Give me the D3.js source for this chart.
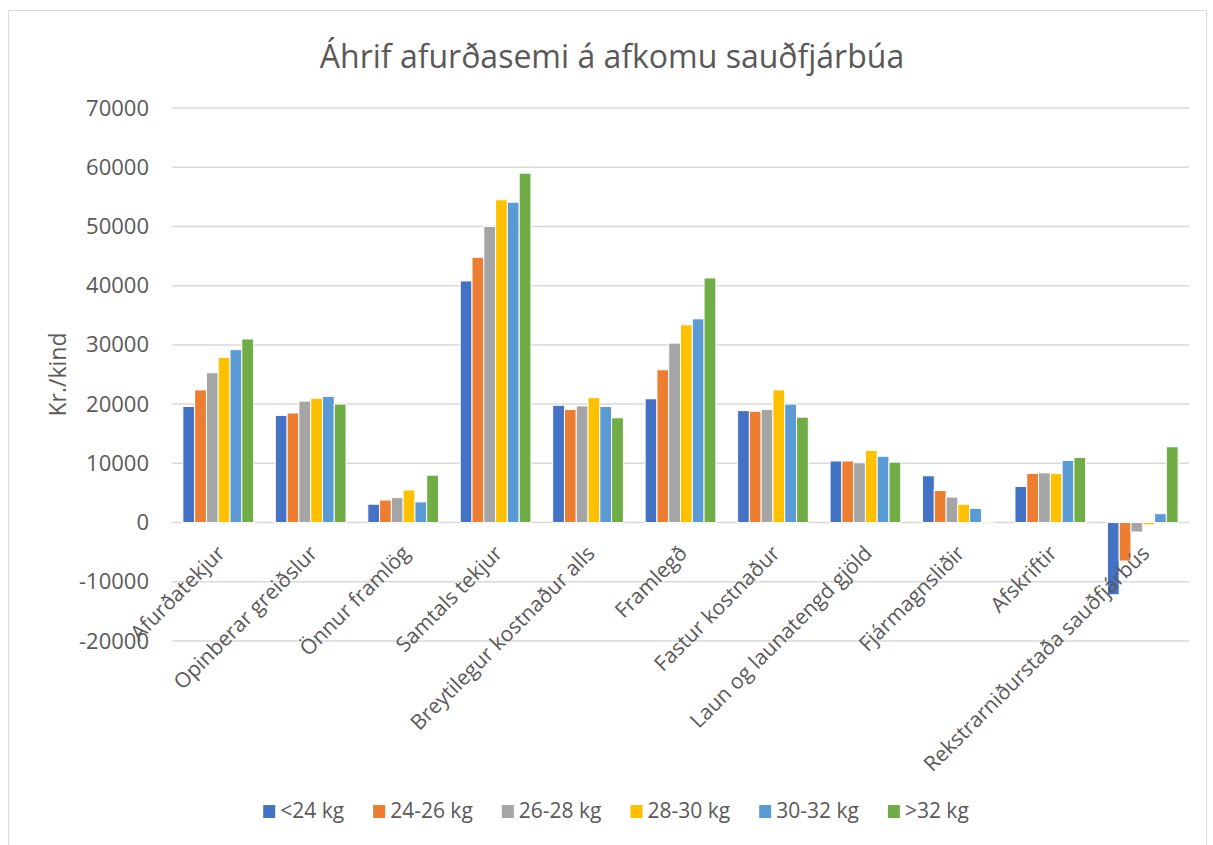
<!DOCTYPE html>
<html>
<head>
<meta charset="utf-8">
<script src="https://cdn.jsdelivr.net/npm/d3@7"></script>
<style>
  body { margin: 0; background: #fff; }
  svg text { font-family: 'Open Sans', 'Liberation Sans', sans-serif; fill: #595959; }
</style>
</head>
<body>
<svg id="chart" width="1213" height="845"></svg>
<script>
// Chart data
const categories = [
    'Afurðatekjur', 'Opinberar greiðslur', 'Önnur framlög', 'Samtals tekjur',
    'Breytilegur kostnaður alls', 'Framlegð', 'Fastur kostnaður',
    'Laun og launatengd gjöld', 'Fjármagnsliðir', 'Afskriftir',
    'Rekstrarniðurstaða sauðfjárbús'
];
const seriesNames = ['<24 kg', '24-26 kg', '26-28 kg', '28-30 kg', '30-32 kg', '>32 kg'];
const seriesColors = ['#4472C4', '#ED7D31', '#A5A5A5', '#FFC000', '#5B9BD5', '#70AD47'];

const under24 = [19600, 18100, 3100, 40800, 19800, 20900, 18900, 10400, 7900, 6100, -12200];
const w24to26 = [22400, 18500, 3800, 44800, 19100, 25800, 18800, 10400, 5400, 8300, -6500];
const w26to28 = [25300, 20500, 4200, 50000, 19700, 30300, 19100, 10100, 4300, 8400, -1600];
const w28to30 = [27900, 21000, 5500, 54500, 21100, 33400, 22400, 12200, 3100, 8300, -400];
const w30to32 = [29200, 21300, 3500, 54100, 19600, 34400, 20000, 11200, 2400, 10500, 1500];
const over32 = [31000, 20000, 8000, 59000, 17700, 41300, 17800, 10200, -200, 11000, 12800];

const yTicks = [-20000, -10000, 0, 10000, 20000, 30000, 40000, 50000, 60000, 70000];

const seriesValues = [under24, w24to26, w26to28, w28to30, w30to32, over32];

const svg = d3.select('#chart');
const plot = { left: 172, right: 1189, top: 108, bottom: 641 };

// Chart frame
svg.append('rect')
    .attr('x', 8.5).attr('y', 10.5)
    .attr('width', 1198).attr('height', 850)
    .attr('fill', 'none')
    .attr('stroke', '#d9d9d9');

const x = d3.scaleBand()
    .domain(categories)
    .range([plot.left, plot.right]);

const y = d3.scaleLinear()
    .domain([-20000, 70000])
    .range([plot.bottom, plot.top]);

const groupWidth = x.bandwidth() * 0.765;
const xInner = d3.scaleBand()
    .domain(d3.range(seriesNames.length))
    .range([0, groupWidth]);

// Gridlines
svg.append('g')
    .selectAll('line')
    .data(yTicks)
    .enter()
    .append('line')
    .attr('x1', plot.left).attr('x2', plot.right)
    .attr('y1', d => y(d)).attr('y2', d => y(d))
    .attr('stroke', '#d9d9d9')
    .attr('stroke-width', 1.5);

// Y axis labels
const yAxis = d3.axisLeft(y).tickValues(yTicks).tickSize(0).tickPadding(0).tickFormat(d => String(d));
const yAxisG = svg.append('g')
    .attr('transform', `translate(149,0)`)
    .call(yAxis);
yAxisG.select('.domain').remove();
yAxisG.selectAll('text')
    .style('font-size', '22px')
    .attr('fill', '#595959');

svg.append('text')
    .attr('transform', `translate(66,${(y(70000) + y(-20000)) / 2}) rotate(-90)`)
    .attr('text-anchor', 'middle')
    .style('font-size', '23px')
    .text('Kr./kind');

// Bars
seriesValues.forEach((vals, si) => {
    svg.append('g')
        .selectAll('rect')
        .data(vals)
        .enter()
        .append('rect')
        .attr('x', (d, i) => x(categories[i]) + (x.bandwidth() - groupWidth) / 2 + xInner(si))
        .attr('y', d => y(Math.max(0, d)))
        .attr('width', xInner.bandwidth())
        .attr('height', d => Math.abs(y(d) - y(0)))
        .attr('fill', seriesColors[si])
        .attr('stroke', '#fff')
        .attr('stroke-width', 1);
});

// Category labels
svg.append('g')
    .selectAll('text')
    .data(categories)
    .enter()
    .append('text')
    .attr('text-anchor', 'end')
    .attr('transform', d => `translate(${x(d) + x.bandwidth() / 2 + 8},${y(0) + 32}) rotate(-45)`)
    .style('font-size', '21px')
    .text(d => d);

// Title
svg.append('text')
    .attr('x', 612).attr('y', 68)
    .attr('text-anchor', 'middle')
    .style('font-size', '32px')
    .text('Áhrif afurðasemi á afkomu sauðfjárbúa');

// Legend, laid out from the text widths and centred
const legend = svg.append('g');
const items = legend.selectAll('g')
    .data(seriesNames)
    .enter()
    .append('g');
items.append('rect')
    .attr('width', 12).attr('height', 13)
    .attr('fill', (d, i) => seriesColors[i]);
items.append('text')
    .attr('x', 17).attr('y', 13)
    .style('font-size', '21px')
    .text(d => d);
let cursor = 0;
items.each(function() {
    const w = d3.select(this).select('text').node().getComputedTextLength();
    d3.select(this).attr('transform', `translate(${cursor},0)`);
    cursor += 17 + w + 29;
});
const legendWidth = cursor - 29;
legend.attr('transform', `translate(${616 - legendWidth / 2},805)`);
</script>
</body>
</html>
